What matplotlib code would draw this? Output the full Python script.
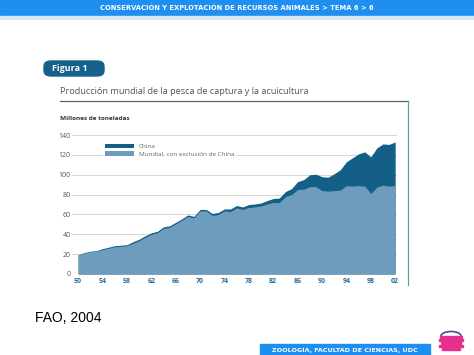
import matplotlib.pyplot as plt
from matplotlib.patches import Rectangle, FancyBboxPatch, Ellipse
from matplotlib.lines import Line2D

# datos (millones de toneladas)
years = list(range(1950, 2003))
total = [19.5, 21.5, 23, 23.5, 25.5, 27, 28.5, 29, 29.5, 32.5,
         35, 38.5, 41.5, 43, 47.5, 48.5, 52, 55.5, 59.5, 58,
         65, 65, 61, 62, 65.5, 65.5, 69, 67.5, 70, 70.5,
         71.5, 74, 76, 76.5, 83, 86, 93, 95, 100, 100.5,
         98, 97.5, 101, 105, 113, 117, 121, 123, 118, 127,
         131, 130.5, 133]
sin_china = [19.2, 21, 22.5, 23, 24.5, 26, 27.5, 28, 28.5, 31,
             33.5, 37, 40, 41.5, 46, 47, 50.5, 54, 58, 56.5,
             63.5, 63.5, 59, 60, 63.5, 63, 66.5, 65, 67, 67.5,
             68.5, 70.5, 72, 72, 78, 80, 85, 85.5, 88, 88,
             84, 83.5, 84, 84.5, 89, 88.5, 89, 88.5, 81, 87.5,
             89.5, 88.5, 89]
xticks = [1950, 1954, 1958, 1962, 1966, 1970, 1974, 1978, 1982, 1986, 1990, 1994, 1998, 2002]
xlabels = ['50', '54', '58', '62', '66', '70', '74', '78', '82', '86', '90', '94', '98', '02']
yticks = [0, 20, 40, 60, 80, 100, 120, 140]

c_china = '#145f88'
c_mundo = '#6d9cbd'

fig = plt.figure(figsize=(4.74, 3.55), dpi=100)
W, H = 474.0, 355.0

def fx(px):
    return px / W

def fy(py):
    return 1 - py / H

# banda superior
fig.patches.append(Rectangle((0, fy(16)), 1, 16 / H, transform=fig.transFigure,
                             color='#1e8ff0', zorder=0))
fig.patches.append(Rectangle((0, fy(19)), 1, 3 / H, transform=fig.transFigure,
                             color='#d8e8f5', zorder=0))
fig.text(0.5, fy(8), 'CONSERVACIÓN Y EXPLOTACIÓN DE RECURSOS ANIMALES > TEMA 6 > 6',
         color='white', fontsize=4.9, fontweight='bold', ha='center', va='center',
         family='DejaVu Sans')

# etiqueta "Figura 1"
fig.patches.append(FancyBboxPatch((fx(44), fy(76)), fx(60), 15 / H,
                                  boxstyle='round,pad=0,rounding_size=0.015',
                                  transform=fig.transFigure, color='#17608c'))
fig.text(fx(52), fy(68.5), 'Figura 1', color='white', fontsize=6.5, fontweight='bold',
         va='center', family='Open Sans')

fig.text(fx(60), fy(92), 'Producción mundial de la pesca de captura y la acuicultura',
         color='#555555', fontsize=6.6, va='center', family='Open Sans')
fig.lines.append(Line2D([fx(60), fx(408)], [fy(101), fy(101)], transform=fig.transFigure,
                        color='#55676e', lw=0.9))
fig.lines.append(Line2D([fx(408), fx(408)], [fy(101), fy(285)], transform=fig.transFigure,
                        color='#5f9ea8', lw=0.9))
fig.text(fx(60), fy(118), 'Millones de toneladas', color='#333333', fontsize=4.6,
         fontweight='bold', va='center', family='Open Sans')

# grafico
ax = fig.add_axes([fx(72), fy(274), fx(397) - fx(72), (274 - 135) / H])
ax.fill_between(years, 0, total, color=c_china, lw=0, label='China')
ax.fill_between(years, 0, sin_china, color=c_mundo, lw=0,
                label='Mundial, con exclusión de China')
ax.set_xlim(1949, 2002.3)
ax.set_ylim(0, 140)
ax.set_yticks(yticks)
ax.set_xticks(xticks)
ax.set_xticklabels(xlabels)
ax.grid(axis='y', color='#d5d5d5', lw=0.7)
ax.set_axisbelow(True)
for s in ax.spines.values():
    s.set_visible(False)
ax.tick_params(length=0)
ax.tick_params(axis='y', labelsize=5, labelcolor='#555555', pad=1)
ax.tick_params(axis='x', labelsize=5, labelcolor='#2b6c95', pad=3)
for t in ax.get_xticklabels():
    t.set_fontweight('bold')
    t.set_family('Open Sans')
for t in ax.get_yticklabels():
    t.set_family('Open Sans')

leg = ax.legend(loc='upper left', bbox_to_anchor=(0.085, 0.975), frameon=True,
                facecolor='white', edgecolor='none', framealpha=1, fancybox=False,
                handlelength=4.6, handleheight=0.8, labelspacing=0.3,
                borderpad=0.3, handletextpad=0.7, prop={'family': 'Open Sans', 'size': 4.6})
for t in leg.get_texts():
    t.set_color('#666666')

fig.text(fx(35), fy(318), 'FAO, 2004', fontsize=10, color='black', va='center',
         family='Liberation Sans')

# banda inferior
fig.patches.append(Rectangle((fx(260), 0), fx(170), 11 / H, transform=fig.transFigure,
                             color='#1e8ff0'))
fig.text(fx(345), fy(349.5), 'ZOOLOGÍA, FACULTAD DE CIENCIAS, UDC', color='white',
         fontsize=4.6, fontweight='bold', ha='center', va='center', family='DejaVu Sans')

# logo (aproximado)
fig.patches.append(Ellipse((fx(451), fy(336)), fx(20), 9 / H, transform=fig.transFigure,
                           facecolor='none', edgecolor='#4050a0', lw=1.2))
for i, py in enumerate([337, 340, 343, 346, 349]):
    wd = [22, 24, 20, 24, 18][i]
    fig.patches.append(Rectangle((fx(451 - wd / 2), fy(py + 1.2)), fx(wd), 2 / H,
                                 transform=fig.transFigure, color='#e6308f'))

fig.savefig('out.png', dpi=100)
